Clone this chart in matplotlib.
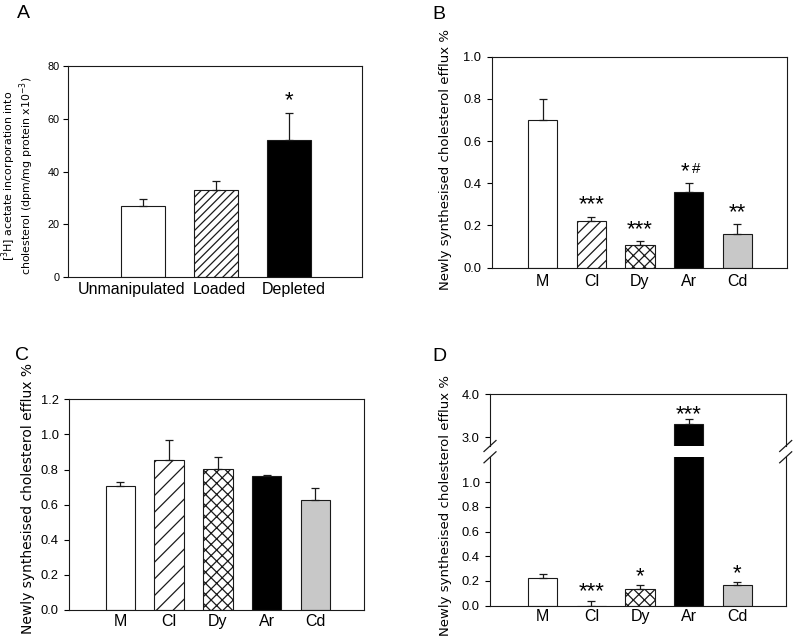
import matplotlib
matplotlib.use('Agg')
import matplotlib.pyplot as plt
import matplotlib.transforms as mtransforms
import numpy as np

plt.rcParams['font.family'] = ['Liberation Sans', 'DejaVu Sans']
plt.rcParams['mathtext.fontset'] = 'dejavusans'
plt.rcParams['hatch.linewidth'] = 0.9

# ---------------- data ----------------
a_categories = ['Unmanipulated', 'Loaded', 'Depleted']
a_values = [26.8, 33.1, 52.0]
a_errors = [2.7, 3.2, 10.3]
a_sig = ['', '', '*']

groups = ['M', 'Cl', 'Dy', 'Ar', 'Cd']

b_values = [0.700, 0.222, 0.106, 0.360, 0.158]
b_errors = [0.100, 0.020, 0.019, 0.040, 0.049]
b_sig = ['', '***', '***', '*#', '**']

c_values = [0.705, 0.857, 0.804, 0.766, 0.629]
c_errors = [0.026, 0.114, 0.070, 0.005, 0.068]

d_values = [0.222, 0.0, 0.135, 3.30, 0.165]
d_errors = [0.032, 0.038, 0.030, 0.12, 0.025]
d_sig = ['', '***', '*', '***', '*']

a_yticks = [0, 20, 40, 60, 80]
b_yticks = [0.0, 0.2, 0.4, 0.6, 0.8, 1.0]
c_yticks = [0.0, 0.2, 0.4, 0.6, 0.8, 1.0, 1.2]
d_low_yticks = [0.0, 0.2, 0.4, 0.6, 0.8, 1.0]
d_high_yticks = [3.0, 4.0]

y_label = 'Newly synthesised cholesterol efflux %'
a_y_label = '[$^{3}$H] acetate incorporation into\ncholesterol (dpm/mg protein x10$^{-3}$)'

# ---------------- styles ----------------
EDGE = '#1a1a1a'
a_fills = ['white', 'white', 'black']
a_hatches = [None, '////', None]
g_fills = ['white', 'white', 'white', 'black', '#c8c8c8']
b_hatches = [None, '///', 'xxx', None, None]
c_hatches = [None, '//', 'xxx', None, None]
LABEL_FONT = ['DejaVu Sans']

W, H = 800, 643
fig = plt.figure(figsize=(W / 100, H / 100), dpi=100)


def box(l, t, r, b):
    return [l / W, 1 - b / H, (r - l) / W, (b - t) / H]


def style_axis(ax, tick_size, ypad=4, xpad=4):
    for s in ax.spines.values():
        s.set_linewidth(0.8)
        s.set_color(EDGE)
    ax.tick_params(axis='y', direction='out', length=3.5, width=0.8,
                   labelsize=tick_size, pad=ypad, right=False, colors='black')
    ax.tick_params(axis='x', length=0, pad=xpad)


def draw_bars(ax, x, values, errors, fills, hatches, width=0.6):
    bars = ax.bar(x, values, width, color=fills, edgecolor=EDGE, linewidth=0.8, zorder=2)
    for b, h in zip(bars, hatches):
        if h:
            b.set_hatch(h)
    ax.errorbar(x, values, yerr=[np.zeros(len(values)), errors], fmt='none',
                ecolor=EDGE, elinewidth=0.9, capsize=2.6, capthick=0.9, zorder=3)
    return bars


def annotate(ax, x, values, errors, sig, size=16, dy=0.5):
    for xi, v, e, s in zip(x, values, errors, sig):
        if not s:
            continue
        stars = s.rstrip('#')
        rest = s[len(stars):]
        if rest:
            ax.annotate(stars, (xi, v + e), xytext=(-2.5, dy), textcoords='offset points',
                        ha='center', va='baseline', fontsize=size)
            ax.annotate(rest, (xi, v + e), xytext=(5.5, dy + 3.2), textcoords='offset points',
                        ha='center', va='baseline', fontsize=11)
        else:
            ax.annotate(stars, (xi, v + e), xytext=(0, dy), textcoords='offset points',
                        ha='center', va='baseline', fontsize=size)


xg = np.arange(len(groups))

# ---------------- Panel A ----------------
axA = fig.add_axes(box(68, 66, 362, 277))
xa = np.arange(len(a_categories))
draw_bars(axA, xa, a_values, a_errors, a_fills, a_hatches)
annotate(axA, xa, a_values, a_errors, a_sig, dy=4.8)
axA.set_xlim(-1.02, 3.0)
axA.set_ylim(0, 80)
axA.set_yticks(a_yticks)
axA.set_xticks(xa)
axA.set_xticklabels(a_categories, fontsize=11.5)
style_axis(axA, 7.8, ypad=2.5, xpad=3.6)
for lab, dx in zip(axA.get_xticklabels(), [-11.5, 4, 5]):
    lab.set_transform(lab.get_transform() +
                      mtransforms.ScaledTranslation(dx / 100, 0, fig.dpi_scale_trans))
fig.text(18 / W, 1 - 176 / H, a_y_label, rotation=90, ha='center', va='center',
         fontsize=7.9, multialignment='center', linespacing=0.95, family=LABEL_FONT)

# ---------------- Panel B ----------------
axB = fig.add_axes(box(491.7, 56.7, 786.7, 267.7))
draw_bars(axB, xg, b_values, b_errors, g_fills, b_hatches)
annotate(axB, xg, b_values, b_errors, b_sig, dy=4.5)
axB.set_xlim(-1.05, 5.02)
axB.set_ylim(0, 1.0)
axB.set_yticks(b_yticks)
axB.set_yticklabels([f'{t:.1f}' for t in b_yticks])
axB.set_xticks(xg)
axB.set_xticklabels(groups, fontsize=11.5)
style_axis(axB, 9.3, xpad=4.3)
fig.text(445 / W, 1 - 160 / H, y_label, rotation=90, ha='center', va='center',
         fontsize=9.5, family=LABEL_FONT)

# ---------------- Panel C ----------------
axC = fig.add_axes(box(69, 399.3, 364.3, 610))
draw_bars(axC, xg, c_values, c_errors, g_fills, c_hatches)
axC.set_xlim(-1.05, 5.0)
axC.set_ylim(0, 1.2)
axC.set_yticks(c_yticks)
axC.set_yticklabels([f'{t:.1f}' for t in c_yticks])
axC.set_xticks(xg)
axC.set_xticklabels(groups, fontsize=11.5)
style_axis(axC, 9.3, xpad=2.9)
fig.text(28 / W, 1 - 498 / H, y_label, rotation=90, ha='center', va='center',
         fontsize=10, family=LABEL_FONT)

# ---------------- Panel D (broken axis) ----------------
axDh = fig.add_axes(box(490, 394.3, 785.7, 446))
axDl = fig.add_axes(box(490, 457.3, 785.7, 605.7))
for ax in (axDh, axDl):
    draw_bars(ax, xg, d_values, d_errors, g_fills, b_hatches)
    ax.set_xlim(-1.09, 5.0)
    ax.set_xticks(xg)
axDh.set_ylim(2.8, 4.0)
axDl.set_ylim(0, 1.2)
axDh.set_yticks(d_high_yticks)
axDh.set_yticklabels([f'{t:.1f}' for t in d_high_yticks])
axDl.set_yticks(d_low_yticks)
axDl.set_yticklabels([f'{t:.1f}' for t in d_low_yticks])
axDl.set_xticklabels(groups, fontsize=11.5)
style_axis(axDh, 9.3)
style_axis(axDl, 9.3, xpad=2.2)
axDh.spines['bottom'].set_visible(False)
axDl.spines['top'].set_visible(False)
axDh.tick_params(axis='x', bottom=False, labelbottom=False)

# significance marks: the Ar bar lives in the upper segment
vals_hi = [v if v > 1.2 else np.nan for v in d_values]
vals_lo = [v if v <= 1.2 else np.nan for v in d_values]
annotate(axDh, xg, vals_hi, d_errors,
         [s if v > 1.2 else '' for s, v in zip(d_sig, d_values)], dy=-0.3)
annotate(axDl, xg, vals_lo, d_errors,
         [s if v <= 1.2 else '' for s, v in zip(d_sig, d_values)], dy=2.5)

# break marks on both spines
for xpx in (490, 785.7):
    for ypx in (446, 457.3):
        fig.add_artist(plt.Line2D([(xpx - 6) / W, (xpx + 6) / W],
                                  [1 - (ypx + 5.5) / H, 1 - (ypx - 5.5) / H],
                                  color=EDGE, lw=0.9))

fig.text(445 / W, 1 - 505 / H, y_label, rotation=90, ha='center', va='center',
         fontsize=9.5, family=LABEL_FONT)

# ---------------- panel letters ----------------
for lbl, xp, yp in [('A', 23, 13.5), ('B', 439, 14.5), ('C', 22.5, 355.5), ('D', 439, 356.5)]:
    fig.text(xp / W, 1 - yp / H, lbl, ha='center', va='center', fontsize=14)

fig.savefig('out.png', dpi=100, facecolor='white')
